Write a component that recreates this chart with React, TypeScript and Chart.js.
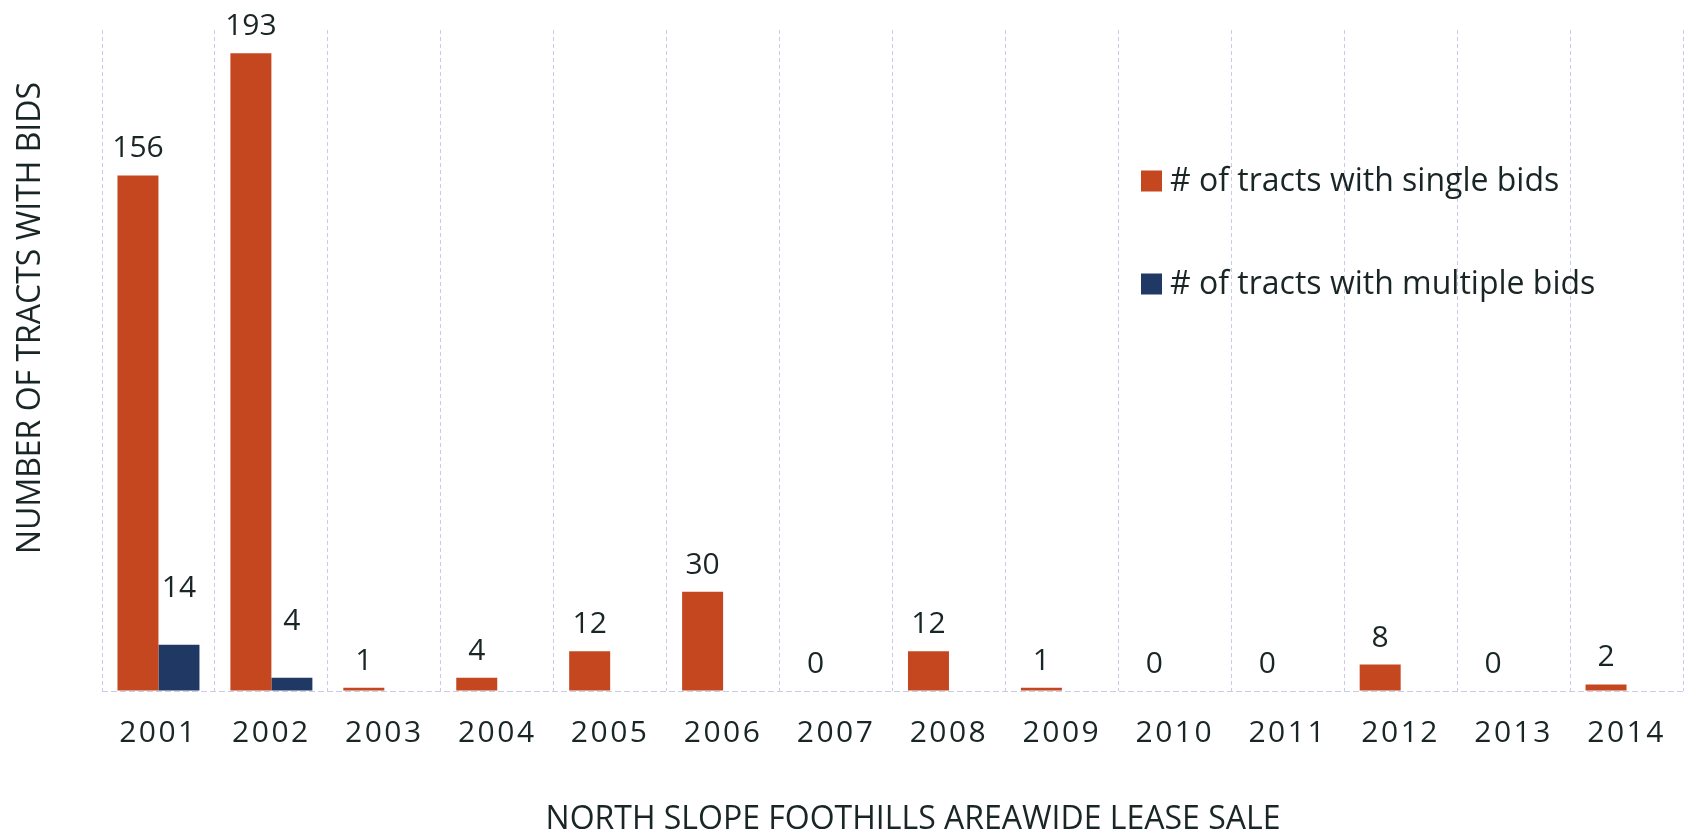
import React, { useEffect, useRef } from "react";
import { Chart, registerables } from "chart.js";

Chart.register(...registerables);

const categories = ["2001", "2002", "2003", "2004", "2005", "2006", "2007", "2008", "2009", "2010", "2011", "2012", "2013", "2014"];
const singleBids = [156, 193, 1, 4, 12, 30, 0, 12, 1, 0, 0, 8, 0, 2];
const multipleBids = [14, 4, 0, 0, 0, 0, 0, 0, 0, 0, 0, 0, 0, 0];
const seriesNames = ["# of tracts with single bids", "# of tracts with multiple bids"];
const xTitle = "NORTH SLOPE FOOTHILLS AREAWIDE LEASE SALE";
const yTitle = "NUMBER OF TRACTS WITH BIDS";

const ORANGE = "#c5471f";
const NAVY = "#1f3864";
const TEXT = "#1a2525";
const GRID = "#c9cce8";
const FONT = "'Open Sans', sans-serif";

const decorPlugin = {
  id: "decor",
  beforeDraw(chart: any) {
    (chart.ctx as any).letterSpacing = "2.5px";
  },
  afterDatasetsDraw(chart: any) {
    const ctx = chart.ctx;
    (ctx as any).letterSpacing = "0px";
    ctx.save();
    ctx.fillStyle = TEXT;
    ctx.textAlign = "center";
    ctx.textBaseline = "alphabetic";
    ctx.font = `30px ${FONT}`;
    chart.data.datasets.forEach((ds: any, di: number) => {
      const meta = chart.getDatasetMeta(di);
      meta.data.forEach((bar: any, i: number) => {
        const v = ds.data[i];
        if (di === 1 && v === 0) return;
        const off = di === 0 ? 18 : 48;
        ctx.fillText(String(v), bar.x, bar.y - off);
      });
    });
    // legend
    const items = [
      { name: seriesNames[0], color: ORANGE, y: 181 },
      { name: seriesNames[1], color: NAVY, y: 284 },
    ];
    ctx.font = `32px ${FONT}`;
    ctx.textAlign = "left";
    ctx.textBaseline = "middle";
    items.forEach((it) => {
      ctx.fillStyle = it.color;
      ctx.fillRect(1141, it.y - 10.5, 21, 21);
      ctx.fillStyle = TEXT;
      ctx.fillText(it.name, 1170, it.y + 1);
    });
    // axis titles
    ctx.font = `32px ${FONT}`;
    ctx.textAlign = "center";
    ctx.textBaseline = "alphabetic";
    ctx.fillText(xTitle, 913, 829);
    ctx.translate(40, 318);
    ctx.rotate(-Math.PI / 2);
    ctx.fillText(yTitle, 0, 0);
    ctx.restore();
  },
};

export default function App() {
  const ref = useRef<HTMLCanvasElement | null>(null);
  useEffect(() => {
    if (!ref.current) return;
    const chart = new Chart(ref.current, {
      type: "bar",
      data: {
        labels: categories,
        datasets: [
          { label: seriesNames[0], data: singleBids, backgroundColor: ORANGE, categoryPercentage: 0.726, barPercentage: 1 },
          { label: seriesNames[1], data: multipleBids, backgroundColor: NAVY, categoryPercentage: 0.726, barPercentage: 1 },
        ],
      },
      options: {
        animation: false,
        responsive: true,
        maintainAspectRatio: false,
        layout: { padding: { top: 30, right: 9, left: 0, bottom: 0 } },
        plugins: { legend: { display: false }, tooltip: { enabled: false }, title: { display: false } },
        scales: {
          x: {
            grid: { color: GRID, lineWidth: 1, drawTicks: false, offset: true },
            border: { display: false, dash: [4, 3] },
            ticks: { color: TEXT, font: { family: FONT, size: 30 }, padding: 24 },
            afterFit: (s: any) => { s.height = 142; },
          },
          y: {
            min: 0,
            max: 200,
            ticks: { display: false, stepSize: 200 },
            grid: {
              drawTicks: false,
              color: (c: any) => (c.tick && c.tick.value === 0 ? GRID : "rgba(0,0,0,0)"),
            },
            border: { display: false, dash: [6, 3] },
            afterFit: (s: any) => { s.width = 102; },
          },
        },
      },
      plugins: [decorPlugin],
    });
    return () => chart.destroy();
  }, []);
  return (
    <div style={{ position: "fixed", left: 0, top: 0, width: 1692, height: 833, background: "#fff" }}>
      <canvas ref={ref} />
    </div>
  );
}
